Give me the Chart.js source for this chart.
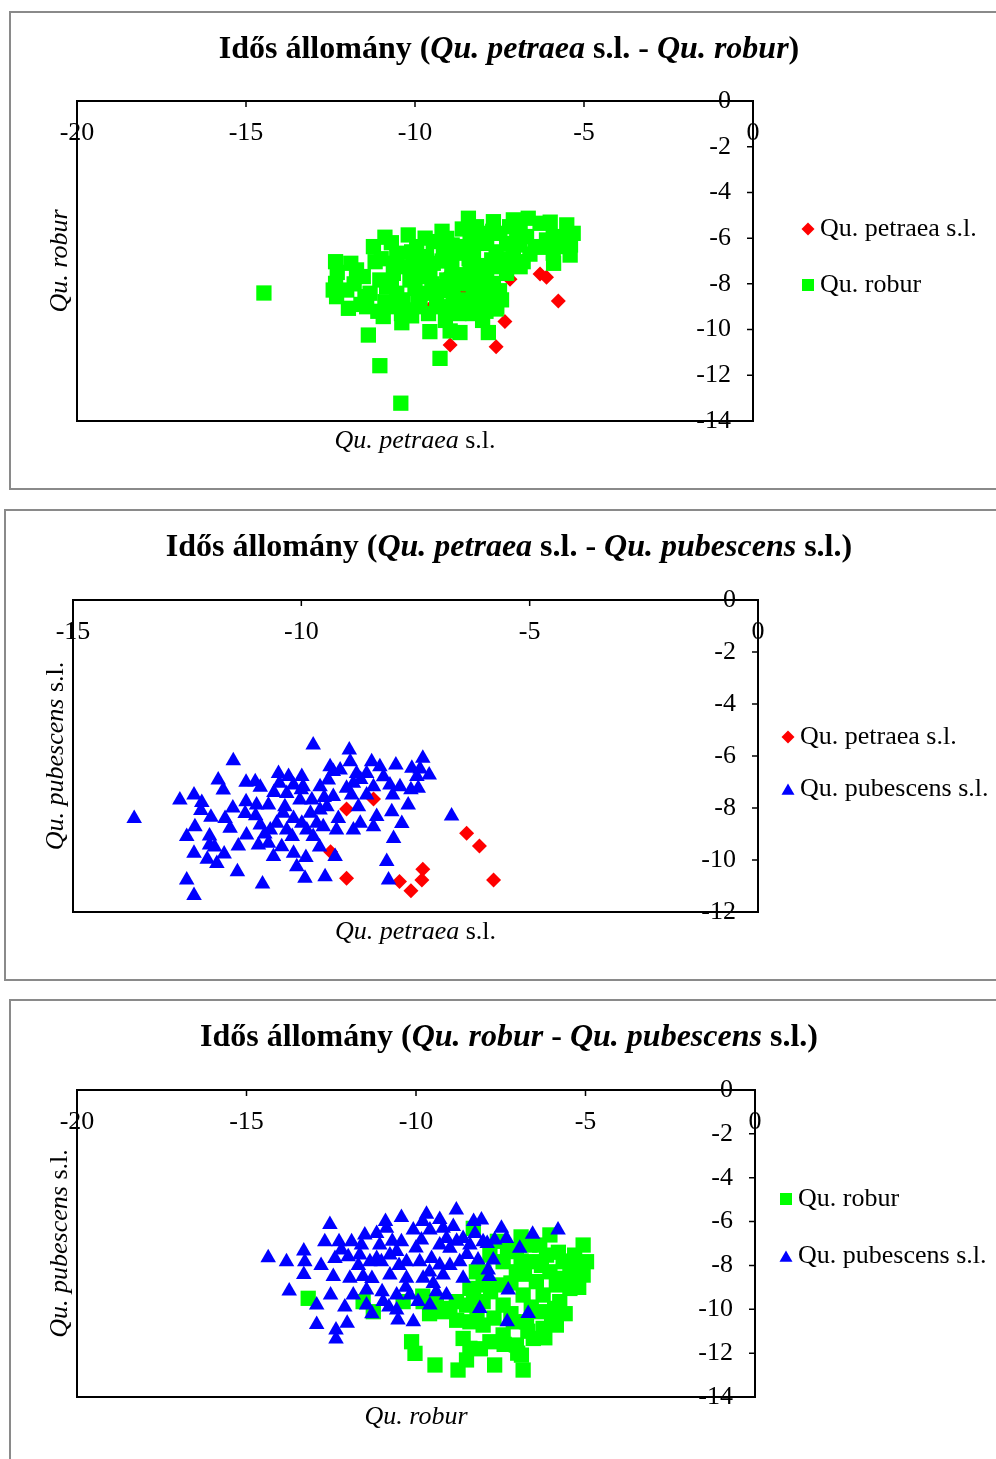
<!DOCTYPE html>
<html>
<head>
<meta charset="utf-8">
<script src="https://cdn.jsdelivr.net/npm/chart.js@4.4.1/dist/chart.umd.min.js"></script>
<style>
html, body { margin:0; padding:0; background:#fff; width:996px; height:1459px; overflow:hidden; position:relative; }
canvas { position:absolute; left:0; }
.box { position:absolute; border:2px solid #8a8a8a; box-sizing:border-box; }
</style>
</head>
<body>
<div class="box" style="left:9px;top:11px;width:1010px;height:479px"></div>
<div class="box" style="left:4px;top:509px;width:1010px;height:472px"></div>
<div class="box" style="left:9px;top:999px;width:1010px;height:480px"></div>
<canvas id="c1" width="996" height="495" style="top:0"></canvas>
<canvas id="c2" width="996" height="495" style="top:495px"></canvas>
<canvas id="c3" width="996" height="469" style="top:990px"></canvas>
<script>
/* ── DATA ── */
const RED = '#ff0000', GREEN = '#00ff00', BLUE = '#0000ff';
const xTicks20 = [-20, -15, -10, -5, 0];
const xTicks15 = [-15, -10, -5, 0];
const yTicks14 = [-14, -12, -10, -8, -6, -4, -2, 0];
const yTicks12 = [-12, -10, -8, -6, -4, -2, 0];

// panel 1: x = Qu. petraea s.l., y = Qu. robur
const p1Petraea = [[-5.76,-8.75],[-6.11,-7.71],[-6.30,-7.57],[-7.34,-9.65],[-7.60,-10.75],[-8.96,-10.67],
  [-7.19,-7.80],[-9.46,-8.92],[-8.2,-7.5],[-7.9,-8.6],[-9.0,-7.6],[-8.5,-8.3]];
const p1Robur = [[-14.47,-8.40],[-12.35,-7.03],[-12.35,-7.98],[-12.32,-8.56],[-12.02,-8.27],[-11.97,-9.07],[-11.53,-7.68],
  [-11.48,-8.56],[-11.38,-10.24],[-11.23,-6.37],[-11.18,-7.03],[-11.04,-11.58],[-10.94,-9.43],[-10.89,-5.96],
  [-10.84,-8.12],[-10.89,-8.78],[-10.39,-9.70],[-10.42,-13.22],[-10.54,-6.66],[-10.20,-5.86],[-10.25,-7.25],
  [-10.35,-8.70],[-9.95,-6.37],[-9.85,-7.68],[-9.90,-8.70],[-9.56,-10.09],[-9.46,-6.15],[-9.46,-7.10],
  [-9.36,-8.12],[-9.26,-11.26],[-9.21,-9.00],[-9.06,-6.01],[-8.96,-10.06],[-8.91,-7.25],[-8.87,-8.41],
  [-8.67,-10.13],[-8.57,-6.37],[-8.42,-5.13],[-8.37,-5.79],[-8.47,-7.68],[-8.27,-8.56],[-8.08,-9.14],
  [-7.83,-10.13],[-7.68,-5.28],[-7.73,-6.95],[-7.68,-7.98],[-7.58,-9.00],[-7.88,-6.23],[-7.09,-5.20],
  [-6.99,-5.93],[-6.80,-7.03],[-6.65,-5.13],[-6.30,-5.35],[-6.45,-6.37],[-6.11,-6.08],[-5.51,-5.42],
  [-5.32,-5.79],[-5.41,-6.74],[-5.91,-6.66],[-7.29,-6.23],[-8.18,-7.39],[-7.29,-7.54],[-7.44,-8.70],
  [-9.16,-6.52],[-8.77,-6.66],[-9.66,-6.81],[-10.15,-7.83],[-9.56,-7.68],[-9.06,-7.83],[-8.67,-7.98],
  [-8.08,-7.98],[-7.88,-8.56],[-8.57,-8.70],[-8.87,-9.00],[-9.66,-8.41],[-10.64,-7.54],[-11.04,-7.83],
  [-11.73,-7.39],[-11.33,-8.41],[-10.54,-8.41],[-10.05,-7.10],[-8.27,-6.66],[-8.18,-5.50],[-7.98,-5.79],
  [-7.49,-5.79],[-6.89,-5.50],[-6.70,-5.93],[-5.91,-5.93],[-5.71,-6.37],[-7.09,-6.66],[-8.37,-7.10],
  [-7.88,-7.39],[-7.58,-7.25],[-8.18,-9.00],[-9.36,-8.70],[-9.85,-9.00],[-10.25,-9.14],[-10.84,-9.00],
  [-11.43,-9.00],[-12.42,-8.27],[-6.89,-7.25],
  [-11.8,-8.0],[-11.6,-8.9],[-11.0,-6.9],[-10.7,-6.2],[-10.6,-7.1],[-10.7,-8.0],[-10.6,-8.9],[-10.1,-6.6],
  [-10.0,-8.2],[-10.1,-9.4],[-9.7,-6.0],[-9.7,-7.3],[-9.5,-8.0],[-9.6,-9.3],[-9.2,-5.7],[-9.2,-7.0],
  [-9.1,-8.3],[-8.9,-6.3],[-8.8,-7.6],[-8.7,-9.3],[-8.6,-5.6],[-8.4,-6.9],[-8.4,-8.0],[-8.3,-9.3],
  [-8.2,-6.1],[-8.0,-7.2],[-8.0,-8.3],[-7.9,-9.2],[-7.7,-5.7],[-7.6,-6.6],[-7.5,-8.3],[-7.6,-9.1],
  [-7.3,-6.9],[-7.2,-5.5],[-6.9,-6.3],[-6.6,-6.7],[-6.3,-6.4],[-6.0,-5.3],[-5.9,-7.1],[-5.6,-6.0],
  [-5.4,-6.3],[-12.3,-7.5],[-11.9,-7.1],[-11.1,-9.2],[-10.4,-9.3],[-9.1,-9.6],[-8.0,-9.6]];

// panel 2: x = Qu. petraea s.l., y = Qu. pubescens s.l.
const p2Petraea = [[-9.01,-8.04],[-8.42,-7.65],[-9.36,-9.68],[-9.01,-10.70],[-7.85,-10.83],[-7.60,-11.18],
  [-7.34,-10.36],[-7.36,-10.77],[-6.38,-8.97],[-6.10,-9.46],[-5.79,-10.77]];
const p2Pubescens = [[-13.66,-8.40],[-12.66,-7.69],[-12.35,-7.50],[-12.18,-7.79],[-12.51,-9.10],[-12.33,-8.72],
  [-12.35,-9.74],[-12.51,-10.77],[-12.35,-11.37],[-11.98,-8.36],[-12.01,-9.08],[-12.01,-9.42],[-12.06,-9.97],
  [-11.85,-10.13],[-11.69,-9.77],[-11.67,-8.40],[-11.56,-8.78],[-11.82,-6.92],[-11.71,-7.31],[-11.49,-6.18],
  [-11.38,-9.46],[-11.40,-10.45],[-11.20,-9.04],[-11.21,-7.01],[-11.01,-6.99],[-11.21,-7.76],[-11.23,-8.21],
  [-10.98,-7.88],[-10.72,-7.88],[-10.90,-8.65],[-10.94,-9.42],[-10.72,-9.36],[-10.85,-10.92],[-10.61,-9.87],
  [-10.50,-6.67],[-10.28,-6.79],[-9.99,-6.79],[-10.17,-7.12],[-10.48,-7.05],[-10.36,-7.95],[-10.03,-7.69],
  [-10.54,-8.59],[-10.32,-8.85],[-10.17,-8.40],[-9.99,-8.59],[-10.43,-9.49],[-10.17,-9.74],[-10.10,-10.26],
  [-9.92,-10.70],[-9.74,-5.58],[-9.77,-7.69],[-9.88,-8.85],[-9.66,-8.59],[-9.74,-9.10],[-9.52,-8.72],
  [-9.48,-10.64],[-9.59,-7.18],[-9.41,-6.92],[-9.30,-7.56],[-9.26,-9.87],[-9.15,-6.54],[-8.95,-5.77],
  [-8.93,-6.22],[-8.86,-7.05],[-8.79,-6.67],[-8.75,-7.95],[-8.86,-8.85],[-8.71,-8.59],[-8.57,-6.67],
  [-8.46,-6.22],[-8.42,-7.18],[-8.35,-8.33],[-8.13,-10.06],[-8.09,-10.77],[-8.06,-7.12],[-8.02,-8.14],
  [-7.98,-9.17],[-7.93,-6.35],[-7.84,-7.18],[-7.66,-7.88],[-7.58,-6.47],[-7.47,-6.79],[-7.44,-7.24],
  [-7.34,-6.09],[-7.20,-6.73],[-6.71,-8.31],[-9.01,-7.24],[-9.44,-7.95],[-9.19,-8.40],[-9.96,-7.18],
  [-9.59,-8.08],[-8.57,-7.50],[-8.28,-6.41],[-9.37,-6.41],[-8.42,-8.72],[-10.68,-8.85],[-10.32,-7.44],
  [-9.23,-8.85],
  [-11.5,-8.0],[-11.0,-8.3],[-10.8,-9.0],[-10.6,-7.4],[-10.4,-8.2],[-10.2,-9.1],[-10.0,-7.3],[-9.8,-8.2],
  [-9.6,-9.5],[-9.5,-7.6],[-9.3,-6.6],[-8.9,-7.5],[-8.7,-6.9],[-8.2,-6.8],[-8.0,-7.5],[-7.8,-8.6],
  [-7.6,-7.3],[-7.4,-6.5],[-11.9,-9.5],[-12.2,-8.1],[-10.9,-7.2],[-9.9,-9.9]];

// panel 3: x = Qu. robur, y = Qu. pubescens s.l.
const p3Robur = [[-13.18,-9.50],[-11.26,-10.11],[-11.56,-9.65],[-10.13,-11.48],[-10.03,-12.01],[-9.44,-12.54],
  [-8.76,-12.77],[-8.51,-12.31],[-8.61,-11.33],[-8.41,-11.78],[-7.68,-12.54],[-6.84,-12.77],[-6.89,-12.09],
  [-7.82,-11.48],[-7.43,-11.17],[-6.25,-10.87],[-5.86,-10.72],[-5.91,-9.96],[-5.46,-9.05],[-5.07,-8.44],
  [-5.07,-7.07],[-5.32,-7.53],[-6.05,-6.61],[-6.35,-7.07],[-8.31,-6.31],[-8.22,-8.29],[-8.81,-9.65],
  [-9.20,-10.11],[-8.51,-9.81],[-8.02,-9.65],[-7.43,-9.81],[-6.84,-9.35],[-6.45,-8.74],[-6.05,-8.29],
  [-5.66,-7.83],[-6.54,-7.83],[-7.04,-8.29],[-7.43,-7.83],[-7.63,-8.89],[-8.02,-8.89],[-8.41,-9.05],
  [-6.35,-10.11],[-6.74,-10.57],[-7.13,-10.57],[-8.02,-10.72],[-8.41,-10.57],[-6.54,-11.33],[-7.04,-11.63],
  [-5.76,-9.65],[-5.46,-8.14],[-4.97,-7.83],[-5.27,-8.74],[-6.25,-9.35],[-5.86,-8.89],[-6.64,-7.07],
  [-7.04,-7.37],[-7.82,-7.53],[-10.38,-9.65],[-9.79,-9.65],[-9.00,-9.96],[-6.15,-7.53],[-5.66,-8.59],
  [-8.3,-9.5],[-7.8,-9.2],[-7.2,-8.8],[-6.8,-8.4],[-6.3,-8.0],[-5.8,-7.4],[-5.4,-7.8],[-5.2,-9.0],
  [-5.6,-10.2],[-6.0,-10.4],[-6.6,-9.9],[-7.2,-10.2],[-7.7,-10.4],[-8.2,-10.2],[-8.8,-10.5],[-7.4,-11.6],
  [-6.7,-11.0],[-6.2,-11.3],[-7.0,-12.0],[-8.1,-11.8],[-6.9,-7.8],[-7.3,-7.3],[-8.0,-8.3],[-7.6,-6.9],
  [-6.9,-6.7],[-9.6,-10.2],[-9.4,-9.6],[-9.8,-9.4]];
const p3Pubescens = [[-14.36,-7.65],[-13.82,-7.83],[-13.74,-9.17],[-13.31,-7.34],[-13.28,-7.83],[-13.31,-8.41],
  [-12.93,-9.81],[-12.93,-10.69],[-12.36,-10.95],[-12.36,-11.36],[-12.03,-10.64],[-12.54,-6.13],[-12.69,-6.92],
  [-12.39,-7.68],[-12.44,-8.51],[-12.52,-9.35],[-12.27,-6.92],[-12.20,-7.30],[-11.95,-8.59],[-11.85,-9.35],
  [-11.90,-6.92],[-11.61,-7.07],[-11.51,-6.61],[-11.56,-8.51],[-11.46,-9.12],[-11.46,-9.81],[-11.16,-6.54],
  [-11.07,-7.07],[-10.87,-6.31],[-11.02,-7.83],[-10.97,-9.65],[-10.77,-8.44],[-10.57,-10.03],[-10.53,-10.49],
  [-10.43,-5.82],[-10.43,-6.92],[-10.28,-8.59],[-10.08,-6.39],[-10.08,-10.57],[-9.94,-9.65],[-9.84,-6.84],
  [-9.69,-5.67],[-9.59,-6.39],[-9.59,-9.81],[-9.54,-7.68],[-9.49,-8.82],[-9.30,-7.07],[-9.20,-8.44],
  [-9.10,-9.35],[-8.90,-6.23],[-8.81,-5.47],[-8.71,-7.83],[-8.61,-6.77],[-8.26,-6.54],[-8.07,-5.93],
  [-8.17,-7.75],[-7.87,-8.21],[-7.84,-8.51],[-7.72,-7.75],[-8.12,-9.96],[-7.48,-6.31],[-7.33,-6.77],
  [-7.28,-9.12],[-7.31,-10.57],[-6.94,-7.22],[-6.69,-10.19],[-6.56,-6.58],[-5.81,-6.39],[-10.57,-7.37],
  [-10.28,-7.83],[-9.89,-7.83],[-9.00,-7.22],[-11.16,-7.68],[-10.77,-7.53],[-9.79,-8.59],[-8.61,-8.59],
  [-9.30,-7.98],[-8.41,-7.07],[-7.68,-6.84],[-9.10,-6.77],[-10.57,-9.35],[-10.18,-9.35],[-11.36,-7.83],
  [-11.66,-7.53],[-9.20,-6.31],[-8.02,-6.92],
  [-12.0,-7.6],[-11.7,-8.0],[-11.3,-8.6],[-11.0,-9.2],[-10.7,-6.9],[-10.5,-8.0],[-10.3,-9.0],[-10.0,-7.2],
  [-9.8,-6.0],[-9.6,-8.3],[-9.4,-9.2],[-9.0,-8.0],[-8.8,-6.9],[-8.5,-7.5],[-8.3,-6.0],[-7.9,-7.0],
  [-12.8,-8.0],[-12.1,-9.9],[-11.3,-10.2],[-10.8,-9.9],[-9.3,-5.9],[-10.9,-6.0]];

/* ── HELPERS ── */
const SERIF = '"Liberation Serif", "Times New Roman", serif';
Chart.defaults.font.family = SERIF;
Chart.defaults.font.size = 26;
Chart.defaults.color = '#000';

const toXY = a => a.map(([x, y]) => ({ x, y }));
const fnt = (it, bold, size) => `${it ? 'italic ' : ''}${bold ? 'bold ' : ''}${size}px ${SERIF}`;

// text with mixed italic / upright runs, centred on x
function rich(ctx, parts, x, y, size, bold) {
  let w = 0;
  parts.forEach(p => { ctx.font = fnt(p[1], bold, size); w += ctx.measureText(p[0]).width; });
  let cx = x - w / 2;
  ctx.textAlign = 'left';
  ctx.textBaseline = 'middle';
  parts.forEach(p => {
    ctx.font = fnt(p[1], bold, size);
    ctx.fillText(p[0], cx, y);
    cx += ctx.measureText(p[0]).width;
  });
}

const legendR = { rect: 8.5, rectRot: 6.5, triangle: 7.5 };

function series(label, pts, style, color, radius, order) {
  return { label, data: toXY(pts), pointStyle: style, pointRadius: radius, pointHoverRadius: radius,
           backgroundColor: color, borderColor: color, borderWidth: 0, order };
}

function panel(id, o) {
  const deco = {
    id: 'deco',
    afterDraw(chart) {
      const { ctx, chartArea: a, scales: { x, y } } = chart;
      ctx.save();
      // plot frame + inside tick marks
      ctx.strokeStyle = '#000';
      ctx.lineWidth = 2;
      ctx.strokeRect(a.left, a.top, a.right - a.left, a.bottom - a.top);
      ctx.lineWidth = 1.5;
      ctx.beginPath();
      o.xTicks.forEach(v => { const px = x.getPixelForValue(v); ctx.moveTo(px, a.top); ctx.lineTo(px, a.top + 6); });
      o.yTicks.forEach(v => { const py = y.getPixelForValue(v); ctx.moveTo(a.right, py); ctx.lineTo(a.right - 6, py); });
      ctx.stroke();
      // titles
      ctx.fillStyle = '#000';
      rich(ctx, o.title, 509, o.titleY, 32, true);
      rich(ctx, o.xTitle, (a.left + a.right) / 2, a.bottom + 20, 26, false);
      ctx.save();
      ctx.translate(o.yTitleX, (a.top + a.bottom) / 2);
      ctx.rotate(-Math.PI / 2);
      rich(ctx, o.yTitle, 0, 0, 26, false);
      ctx.restore();
      // legend
      chart.data.datasets.forEach((ds, i) => {
        const ly = o.legendY[i];
        const r = legendR[ds.pointStyle];
        ctx.fillStyle = ds.backgroundColor;
        Chart.helpers.drawPoint(ctx, { pointStyle: ds.pointStyle, radius: r, rotation: 0, borderWidth: 0 },
          o.legendX, ds.pointStyle === 'triangle' ? ly + r / 4 : ly);
        ctx.fillStyle = '#000';
        ctx.font = fnt(false, false, 26);
        ctx.textAlign = 'left';
        ctx.textBaseline = 'middle';
        ctx.fillText(ds.label, o.legendX + 12, ly);
      });
      ctx.restore();
    }
  };

  new Chart(document.getElementById(id), {
    type: 'scatter',
    data: { datasets: o.datasets },
    options: {
      responsive: false,
      animation: false,
      layout: { padding: o.pad },
      plugins: { legend: { display: false }, tooltip: { enabled: false } },
      scales: {
        x: {
          type: 'linear', position: 'top', min: o.xTicks[0], max: 0,
          afterBuildTicks: s => { s.ticks = o.xTicks.map(v => ({ value: v })); },
          ticks: { mirror: true, padding: 17, maxRotation: 0, autoSkip: false, color: '#000' },
          grid: { display: false, drawTicks: false }, border: { display: false },
          afterFit: s => { s.height = 0; }
        },
        y: {
          type: 'linear', position: 'right', min: o.yTicks[0], max: 0,
          afterBuildTicks: s => { s.ticks = o.yTicks.map(v => ({ value: v })); },
          ticks: { mirror: true, padding: -22, autoSkip: false, color: '#000' },
          grid: { display: false, drawTicks: false }, border: { display: false },
          afterFit: s => { s.width = 0; }
        }
      }
    },
    plugins: [deco]
  });
}

/* ── PANELS ── */
panel('c1', {
  xTicks: xTicks20, yTicks: yTicks14,
  pad: { left: 77, top: 101, right: 243, bottom: 74 },
  title: [['Idős állomány (', 0], ['Qu. petraea', 1], [' s.l. - ', 0], ['Qu. robur', 1], [')', 0]], titleY: 50,
  xTitle: [['Qu. petraea', 1], [' s.l.', 0]],
  yTitle: [['Qu. robur', 1]], yTitleX: 60,
  legendX: 808, legendY: [229, 285],
  datasets: [
    series('Qu. petraea s.l.', p1Petraea, 'rectRot', RED, 7.5, 2),
    series('Qu. robur', p1Robur, 'rect', GREEN, 10.8, 1)
  ]
});

panel('c2', {
  xTicks: xTicks15, yTicks: yTicks12,
  pad: { left: 73, top: 105, right: 238, bottom: 78 },
  title: [['Idős állomány (', 0], ['Qu. petraea', 1], [' s.l. - ', 0], ['Qu. pubescens', 1], [' s.l.)', 0]], titleY: 53,
  xTitle: [['Qu. petraea', 1], [' s.l.', 0]],
  yTitle: [['Qu. pubescens', 1], [' s.l.', 0]], yTitleX: 56,
  legendX: 788, legendY: [242, 294],
  datasets: [
    series('Qu. petraea s.l.', p2Petraea, 'rectRot', RED, 7.5, 2),
    series('Qu. pubescens s.l.', p2Pubescens, 'triangle', BLUE, 9, 1)
  ]
});

panel('c3', {
  xTicks: xTicks20, yTicks: yTicks14,
  pad: { left: 77, top: 100, right: 241, bottom: 62 },
  title: [['Idős állomány (', 0], ['Qu. robur', 1], [' - ', 0], ['Qu. pubescens', 1], [' s.l.)', 0]], titleY: 48,
  xTitle: [['Qu. robur', 1]],
  yTitle: [['Qu. pubescens', 1], [' s.l.', 0]], yTitleX: 60,
  legendX: 786, legendY: [209, 266],
  datasets: [
    series('Qu. robur', p3Robur, 'rect', GREEN, 10.8, 2),
    series('Qu. pubescens s.l.', p3Pubescens, 'triangle', BLUE, 9, 1)
  ]
});
</script>
</body>
</html>
